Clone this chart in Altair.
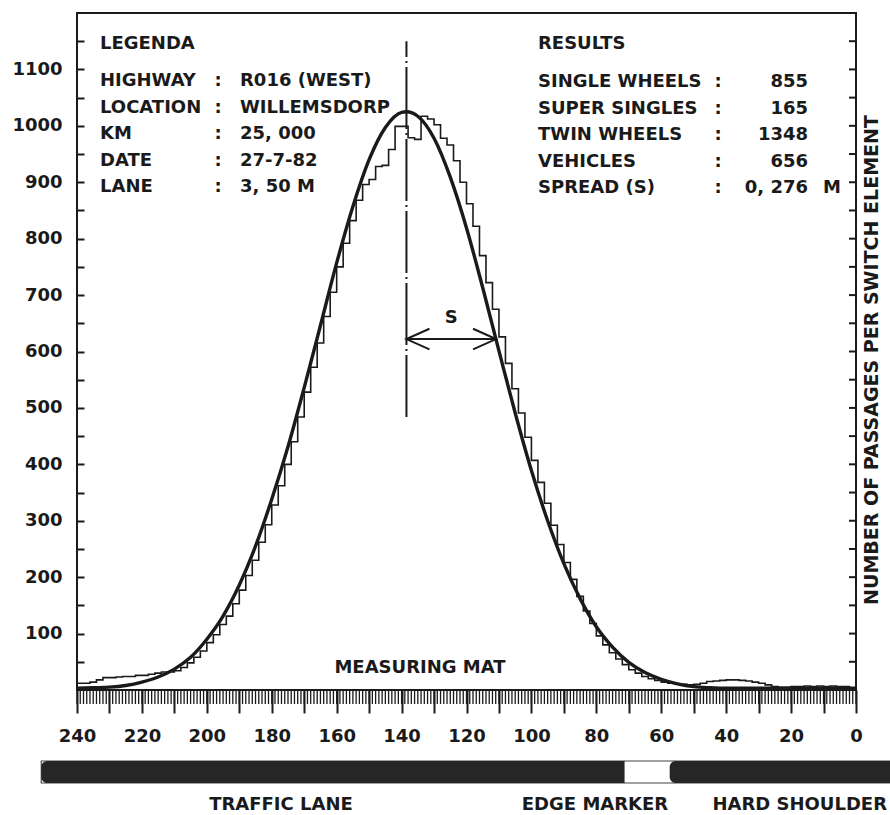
import altair as alt
import pandas as pd

INK = "#1a1a1a"
FONT = "DejaVu Sans"
FS = 18

# ---------------- data ----------------
# histogram: passages per 2 cm element, bin left edges 0..238 (cm)
hist_left = list(range(0, 240, 2))
hist_counts = [
    2, 4, 6, 6, 7, 6, 7, 6, 7, 6,
    6, 5, 5, 6, 9, 12, 14, 16, 17, 18,
    18, 17, 16, 15, 12, 10, 9, 10, 11, 12,
    14, 17, 20, 24, 30, 36, 45, 55, 66, 80,
    96, 118, 140, 166, 196, 226, 258, 292, 331, 368,
    407, 448, 491, 534, 579, 626, 675, 722, 770, 822,
    862, 900, 938, 966, 978, 1002, 1012, 1017, 976, 979,
    999, 999, 958, 930, 928, 905, 896, 868, 832, 792,
    750, 705, 662, 615, 572, 528, 484, 440, 400, 362,
    328, 293, 262, 230, 203, 177, 153, 131, 116, 98,
    84, 69, 58, 48, 40, 34, 32, 32, 30, 28,
    26, 26, 24, 24, 23, 22, 22, 18, 14, 12,
]

# fitted (smooth) distribution
curve_x = [0, 5, 10, 15, 20, 25, 30, 35, 40, 45, 50, 55, 60, 65, 70, 75, 80, 85,
           90, 95, 100, 105, 110, 115, 120, 125, 130, 135, 138.5, 140, 145, 150,
           155, 160, 165, 170, 175, 180, 185, 190, 195, 200, 205, 210, 215, 220,
           225, 230, 235, 240]
curve_y = [3, 3, 3, 3, 3, 3, 3, 3, 3, 4, 6, 11, 19, 31, 49, 76, 112, 162,
           224, 300, 389, 491, 601, 713, 819, 909, 978, 1017, 1025, 1024, 997, 940,
           857, 757, 646, 536, 431, 338, 255, 186, 131, 90, 58, 37, 23, 14,
           8, 5, 4, 3]

center_pos = 138.5       # cm, mean lateral position
spread_cm = 27.6         # cm, spread S
axis_top_val = 1150
axis_low_val = 484
arrow_val = 622

mat_elements = list(range(0, 241))
x_ticks = list(range(0, 241, 10))
y_ticks = list(range(50, 1200, 50))

zone_start = [251, 57.4]
zone_end = [71.3, -12]
bar_start, bar_end = 251, -12

legend_head = "LEGENDA"
legend_labels = ["HIGHWAY", "LOCATION", "KM", "DATE", "LANE"]
legend_values = ["R016 (WEST)", "WILLEMSDORP", "25, 000", "27-7-82", "3, 50 M"]
results_head = "RESULTS"
results_labels = ["SINGLE WHEELS", "SUPER SINGLES", "TWIN WHEELS", "VEHICLES", "SPREAD (S)"]
results_values = ["855", "165", "1348", "656", "0, 276"]
spread_unit = "M"

# ---------------- scales / axes ----------------
W, H = 779, 677
ROW = 26.5
x_scale = alt.Scale(domain=[0, 240], reverse=True, nice=False, zero=False)
y_scale = alt.Scale(domain=[0, 1200], nice=False, zero=False)

x_axis = alt.Axis(values=x_ticks, labelExpr="datum.value % 20 == 0 ? datum.label : ''",
                  format="d", tickSize=23, tickWidth=2, tickColor=INK, domain=False,
                  grid=False, title=None, labelFont=FONT, labelFontSize=FS,
                  labelFontWeight="bold", labelColor=INK, labelPadding=14,
                  labelOverlap=False, labelFlush=False)
y_axis = alt.Axis(values=y_ticks, labelExpr="datum.value % 100 == 0 ? datum.label : ''",
                  format="d", tickSize=7, tickWidth=2, tickColor=INK, offset=-7,
                  domain=False, grid=False, title=None, labelFont=FONT, labelFontSize=FS,
                  labelFontWeight="bold", labelColor=INK, labelPadding=15,
                  labelOverlap=False, labelFlush=False)


def X(f="x"):
    return alt.X(f"{f}:Q", scale=x_scale, axis=x_axis)


def Y(f="y"):
    return alt.Y(f"{f}:Q", scale=y_scale, axis=y_axis)


one = pd.DataFrame({"a": [0]})

# ---------------- layers ----------------
hist_df = pd.DataFrame({"x": hist_left + [240], "y": hist_counts + [hist_counts[-1]]})
hist = alt.Chart(hist_df).mark_line(interpolate="step-after", color=INK, strokeWidth=1.6).encode(
    x=X(), y=Y())

curve_df = pd.DataFrame({"x": curve_x, "y": curve_y})
curve = alt.Chart(curve_df).mark_line(interpolate="monotone", color=INK, strokeWidth=3.4).encode(
    x=X(), y=Y())

teeth = alt.Chart(pd.DataFrame({"x": mat_elements})).mark_rule(color=INK, strokeWidth=1.3).encode(
    x=X(), y=alt.value(H), y2=alt.value(H + 14))

right_ticks = alt.Chart(pd.DataFrame({"y": y_ticks})).mark_rule(color=INK, strokeWidth=2).encode(
    y=Y(), x=alt.value(W - 7), x2=alt.value(W))

bar_bg = alt.Chart(pd.DataFrame({"x": [bar_start], "x2": [bar_end]})).mark_rect(
    fill="white", stroke="#444444", strokeWidth=1.2).encode(
    x=X(), x2=alt.X2("x2:Q"), y=alt.value(748), y2=alt.value(770))
bar = alt.Chart(pd.DataFrame({"x": zone_start, "x2": zone_end})).mark_rect(
    fill="#262626", cornerRadiusTopLeft=6, cornerRadiusBottomLeft=6).encode(
    x=X(), x2=alt.X2("x2:Q"), y=alt.value(748), y2=alt.value(770))

center_line = alt.Chart(pd.DataFrame({"x": [center_pos], "y": [axis_low_val], "y2": [axis_top_val]})).mark_rule(
    color=INK, strokeWidth=2, strokeDash=[62, 4, 2, 4]).encode(
    x=X(), y=Y(), y2=alt.Y2("y2:Q"))

arrow_df = pd.DataFrame({"x": [center_pos], "x2": [center_pos - spread_cm], "y": [arrow_val]})
arrow_line = alt.Chart(arrow_df).mark_rule(color=INK, strokeWidth=2).encode(
    x=X(), x2=alt.X2("x2:Q"), y=Y())
head_left = alt.Chart(pd.DataFrame({"x": [center_pos], "y": [arrow_val]})).mark_point(
    shape="M1,-0.45L0,0L1,0.45", size=2116, filled=False, color=INK, strokeWidth=2, opacity=1).encode(
    x=X(), y=Y())
head_right = alt.Chart(pd.DataFrame({"x": [center_pos - spread_cm], "y": [arrow_val]})).mark_point(
    shape="M-1,-0.45L0,0L-1,0.45", size=2116, filled=False, color=INK, strokeWidth=2, opacity=1).encode(
    x=X(), y=Y())
s_label = alt.Chart(pd.DataFrame({"x": [center_pos - spread_cm / 2], "y": [arrow_val], "t": ["S"]})).mark_text(
    font=FONT, fontSize=FS, fontWeight="bold", color=INK, dy=-21).encode(
    x=X(), y=Y(), text="t:N")


def txt(text, px, py, align="left", angle=0, size=FS):
    props = dict(font=FONT, fontSize=size, fontWeight="bold", color=INK, align=align,
                 baseline="middle", lineHeight=ROW)
    if angle:
        props["angle"] = angle
    return alt.Chart(one).mark_text(**props).encode(
        x=alt.value(px), y=alt.value(py), text=alt.value(text))


texts = [
    txt(legend_head, 23, 31),
    txt(legend_labels, 23, 68),
    txt([":"] * 5, 141, 68, align="center"),
    txt(legend_values, 163, 68),
    txt(results_head, 461, 31),
    txt(results_labels, 461, 69),
    txt([":"] * 5, 641, 69, align="center"),
    txt(results_values, 731, 69, align="right"),
    txt(spread_unit, 746, 69 + 4 * ROW),
    txt("MEASURING MAT", 343, 655, align="center"),
    txt("NUMBER OF PASSAGES PER SWITCH ELEMENT", 795, 347, align="center", angle=270, size=19),
    txt("TRAFFIC LANE", 204, 792, align="center"),
    txt("EDGE MARKER", 518, 792, align="center"),
    txt("HARD SHOULDER", 810, 792, align="right"),
]

chart = alt.layer(
    bar_bg, bar, teeth, right_ticks, hist, curve, center_line,
    arrow_line, head_left, head_right, s_label, *texts
).properties(
    width=W, height=H,
    padding={"left": 77, "top": 13, "right": 34, "bottom": 125},
    autosize=alt.AutoSizeParams(type="none"),
    background="white",
).configure_view(stroke=INK, strokeWidth=2)

chart.save("out.html", embed_options={"renderer": "svg", "actions": False})
